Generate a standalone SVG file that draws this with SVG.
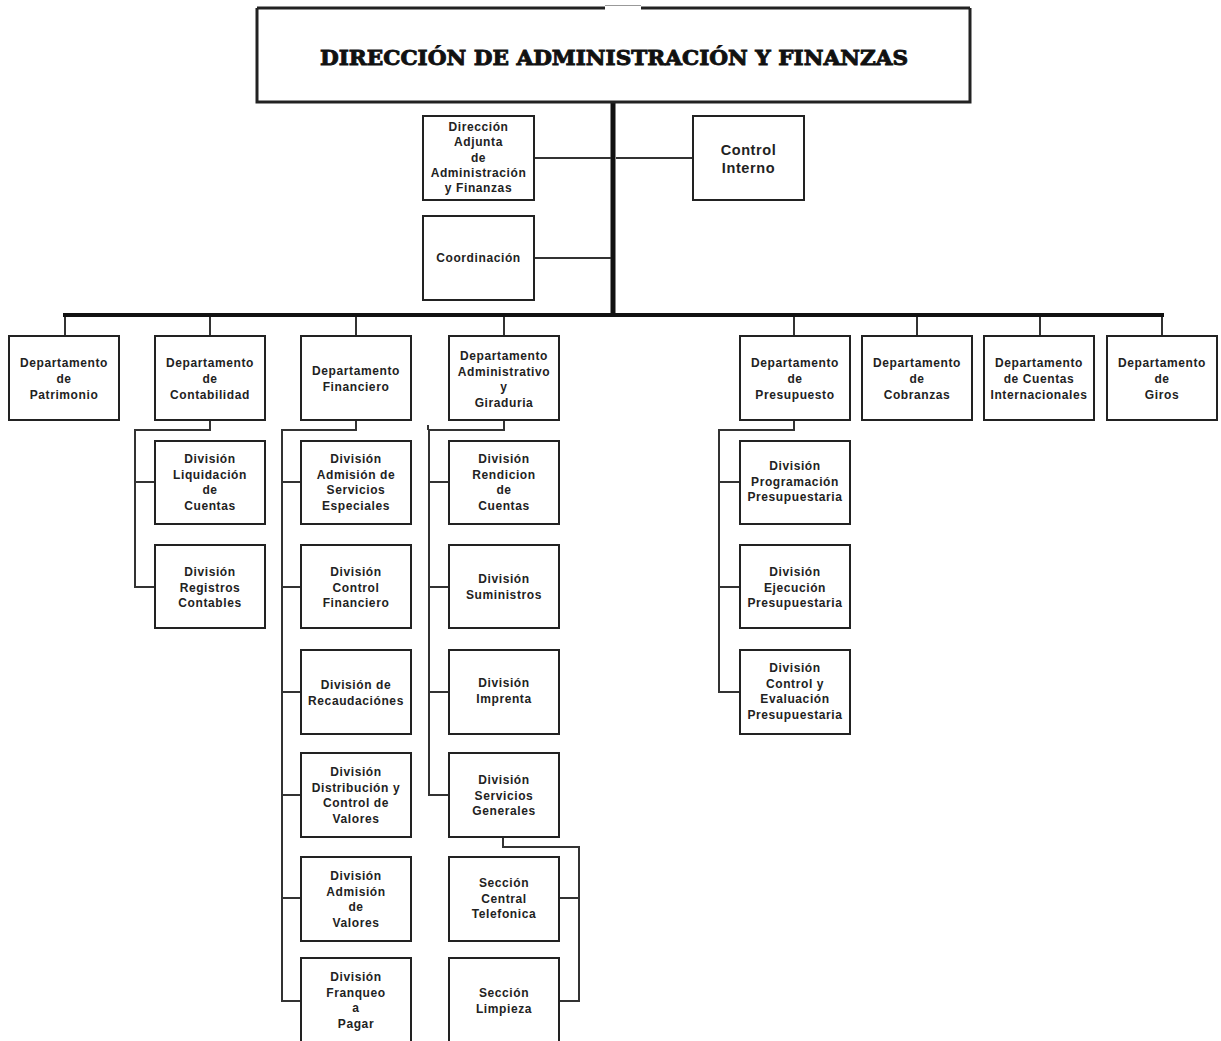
<svg xmlns="http://www.w3.org/2000/svg" width="1221" height="1041" viewBox="0 0 1221 1041">
<style>
.bx{fill:#fff;stroke:#222;stroke-width:2}
.t{font-family:"Liberation Sans",Arial,sans-serif;font-weight:bold;font-size:12px;letter-spacing:0.6px;fill:#222;text-anchor:middle}
.tl{font-size:14.5px}
.ti{font-family:"DejaVu Serif","Liberation Serif",serif;font-weight:bold;font-size:20px;fill:#111;stroke:#111;stroke-width:0.9px;text-anchor:middle}
.c{fill:none;stroke:#333;stroke-width:2}
</style>
<rect width="1221" height="1041" fill="#fff"/>
<g id="connectors">
<line x1="613" y1="102" x2="613" y2="317" stroke="#111" stroke-width="5"/>
<line x1="63" y1="315" x2="1164" y2="315" stroke="#111" stroke-width="4"/>
<line class="c" x1="534" y1="158" x2="611" y2="158"/>
<line class="c" x1="534" y1="258" x2="611" y2="258"/>
<line class="c" x1="616" y1="158" x2="693" y2="158"/>
<path class="c" d="M65 317V336M210 317V336M356 317V336M504 317V336M794 317V336M917 317V336M1040 317V336M1162 317V336"/>
<path class="c" d="M210 420V430H135V587H155M135 482H155"/>
<path class="c" d="M356 420V430H282V1001H301M282 482H301M282 587H301M282 692H301M282 795H301M282 898H301"/>
<path class="c" d="M504 420V430H429V795H449M429 482H449M429 587H449M429 692H449M428 425V430"/>
<path class="c" d="M503 837V847H579V1001H559M559 898H579"/>
<path class="c" d="M794 420V430H719V692H740M719 482H740M719 587H740"/>
</g>
<g id="n-direccion">
<path d="M257 8V102H970V8M257 8H605M641 8H970" fill="#fff" stroke="#222" stroke-width="3"/>
<line x1="605" y1="5.5" x2="641" y2="5.5" stroke="#999" stroke-width="1"/>
<text class="ti" x="614" y="65" textLength="588" lengthAdjust="spacingAndGlyphs">DIRECCIÓN DE ADMINISTRACIÓN Y FINANZAS</text>
</g>
<g id="n-adjunta">
<rect class="bx" x="423" y="116" width="111" height="84"/>
<text class="t" x="478.5" y="131"><tspan x="478.5">Dirección</tspan><tspan x="478.5" dy="15.3">Adjunta</tspan><tspan x="478.5" dy="15.3">de</tspan><tspan x="478.5" dy="15.3">Administración</tspan><tspan x="478.5" dy="15.3">y Finanzas</tspan></text>
</g>
<g id="n-coordinacion">
<rect class="bx" x="423" y="216" width="111" height="84"/>
<text class="t" x="478.5" y="262">Coordinación</text>
</g>
<g id="n-control-interno">
<rect class="bx" x="693" y="116" width="111" height="84"/>
<text class="t tl" x="748.5" y="155"><tspan x="748.5">Control</tspan><tspan x="748.5" dy="18">Interno</tspan></text>
</g>
<g id="n-patrimonio">
<rect class="bx" x="9" y="336" width="110" height="84"/>
<text class="t" x="64" y="367"><tspan x="64">Departamento</tspan><tspan x="64" dy="16">de</tspan><tspan x="64" dy="16">Patrimonio</tspan></text>
</g>
<g id="n-contabilidad">
<rect class="bx" x="155" y="336" width="110" height="84"/>
<text class="t" x="210" y="367"><tspan x="210">Departamento</tspan><tspan x="210" dy="16">de</tspan><tspan x="210" dy="16">Contabilidad</tspan></text>
</g>
<g id="n-financiero">
<rect class="bx" x="301" y="336" width="110" height="84"/>
<text class="t" x="356" y="375"><tspan x="356">Departamento</tspan><tspan x="356" dy="16">Financiero</tspan></text>
</g>
<g id="n-administrativo">
<rect class="bx" x="449" y="336" width="110" height="84"/>
<text class="t" x="504" y="360"><tspan x="504">Departamento</tspan><tspan x="504" dy="15.5">Administrativo</tspan><tspan x="504" dy="15.5">y</tspan><tspan x="504" dy="15.5">Giraduria</tspan></text>
</g>
<g id="n-presupuesto">
<rect class="bx" x="740" y="336" width="110" height="84"/>
<text class="t" x="795" y="367"><tspan x="795">Departamento</tspan><tspan x="795" dy="16">de</tspan><tspan x="795" dy="16">Presupuesto</tspan></text>
</g>
<g id="n-cobranzas">
<rect class="bx" x="862" y="336" width="110" height="84"/>
<text class="t" x="917" y="367"><tspan x="917">Departamento</tspan><tspan x="917" dy="16">de</tspan><tspan x="917" dy="16">Cobranzas</tspan></text>
</g>
<g id="n-cuentas-int">
<rect class="bx" x="984" y="336" width="110" height="84"/>
<text class="t" x="1039" y="367"><tspan x="1039">Departamento</tspan><tspan x="1039" dy="16">de Cuentas</tspan><tspan x="1039" dy="16">Internacionales</tspan></text>
</g>
<g id="n-giros">
<rect class="bx" x="1107" y="336" width="110" height="84"/>
<text class="t" x="1162" y="367"><tspan x="1162">Departamento</tspan><tspan x="1162" dy="16">de</tspan><tspan x="1162" dy="16">Giros</tspan></text>
</g>
<g id="n-liquidacion">
<rect class="bx" x="155" y="441" width="110" height="83"/>
<text class="t" x="210" y="463"><tspan x="210">División</tspan><tspan x="210" dy="15.5">Liquidación</tspan><tspan x="210" dy="15.5">de</tspan><tspan x="210" dy="15.5">Cuentas</tspan></text>
</g>
<g id="n-registros">
<rect class="bx" x="155" y="545" width="110" height="83"/>
<text class="t" x="210" y="576"><tspan x="210">División</tspan><tspan x="210" dy="15.5">Registros</tspan><tspan x="210" dy="15.5">Contables</tspan></text>
</g>
<g id="n-admision-servicios">
<rect class="bx" x="301" y="441" width="110" height="83"/>
<text class="t" x="356" y="463"><tspan x="356">División</tspan><tspan x="356" dy="15.5">Admisión de</tspan><tspan x="356" dy="15.5">Servicios</tspan><tspan x="356" dy="15.5">Especiales</tspan></text>
</g>
<g id="n-control-financiero">
<rect class="bx" x="301" y="545" width="110" height="83"/>
<text class="t" x="356" y="576"><tspan x="356">División</tspan><tspan x="356" dy="15.5">Control</tspan><tspan x="356" dy="15.5">Financiero</tspan></text>
</g>
<g id="n-recaudaciones">
<rect class="bx" x="301" y="650" width="110" height="84"/>
<text class="t" x="356" y="689"><tspan x="356">División de</tspan><tspan x="356" dy="15.5">Recaudaciónes</tspan></text>
</g>
<g id="n-distribucion">
<rect class="bx" x="301" y="753" width="110" height="84"/>
<text class="t" x="356" y="776"><tspan x="356">División</tspan><tspan x="356" dy="15.5">Distribución y</tspan><tspan x="356" dy="15.5">Control de</tspan><tspan x="356" dy="15.5">Valores</tspan></text>
</g>
<g id="n-admision-valores">
<rect class="bx" x="301" y="857" width="110" height="84"/>
<text class="t" x="356" y="880"><tspan x="356">División</tspan><tspan x="356" dy="15.5">Admisión</tspan><tspan x="356" dy="15.5">de</tspan><tspan x="356" dy="15.5">Valores</tspan></text>
</g>
<g id="n-franqueo">
<rect class="bx" x="301" y="958" width="110" height="90"/>
<text class="t" x="356" y="981"><tspan x="356">División</tspan><tspan x="356" dy="15.5">Franqueo</tspan><tspan x="356" dy="15.5">a</tspan><tspan x="356" dy="15.5">Pagar</tspan></text>
</g>
<g id="n-rendicion">
<rect class="bx" x="449" y="441" width="110" height="83"/>
<text class="t" x="504" y="463"><tspan x="504">División</tspan><tspan x="504" dy="15.5">Rendicion</tspan><tspan x="504" dy="15.5">de</tspan><tspan x="504" dy="15.5">Cuentas</tspan></text>
</g>
<g id="n-suministros">
<rect class="bx" x="449" y="545" width="110" height="83"/>
<text class="t" x="504" y="583"><tspan x="504">División</tspan><tspan x="504" dy="15.5">Suministros</tspan></text>
</g>
<g id="n-imprenta">
<rect class="bx" x="449" y="650" width="110" height="84"/>
<text class="t" x="504" y="687"><tspan x="504">División</tspan><tspan x="504" dy="15.5">Imprenta</tspan></text>
</g>
<g id="n-servicios-generales">
<rect class="bx" x="449" y="753" width="110" height="84"/>
<text class="t" x="504" y="784"><tspan x="504">División</tspan><tspan x="504" dy="15.5">Servicios</tspan><tspan x="504" dy="15.5">Generales</tspan></text>
</g>
<g id="n-central-telefonica">
<rect class="bx" x="449" y="857" width="110" height="84"/>
<text class="t" x="504" y="887"><tspan x="504">Sección</tspan><tspan x="504" dy="15.5">Central</tspan><tspan x="504" dy="15.5">Telefonica</tspan></text>
</g>
<g id="n-limpieza">
<rect class="bx" x="449" y="958" width="110" height="90"/>
<text class="t" x="504" y="997"><tspan x="504">Sección</tspan><tspan x="504" dy="15.5">Limpieza</tspan></text>
</g>
<g id="n-programacion">
<rect class="bx" x="740" y="441" width="110" height="83"/>
<text class="t" x="795" y="470"><tspan x="795">División</tspan><tspan x="795" dy="15.5">Programación</tspan><tspan x="795" dy="15.5">Presupuestaria</tspan></text>
</g>
<g id="n-ejecucion">
<rect class="bx" x="740" y="545" width="110" height="83"/>
<text class="t" x="795" y="576"><tspan x="795">División</tspan><tspan x="795" dy="15.5">Ejecución</tspan><tspan x="795" dy="15.5">Presupuestaria</tspan></text>
</g>
<g id="n-control-evaluacion">
<rect class="bx" x="740" y="650" width="110" height="84"/>
<text class="t" x="795" y="672"><tspan x="795">División</tspan><tspan x="795" dy="15.5">Control y</tspan><tspan x="795" dy="15.5">Evaluación</tspan><tspan x="795" dy="15.5">Presupuestaria</tspan></text>
</g>
</svg>
